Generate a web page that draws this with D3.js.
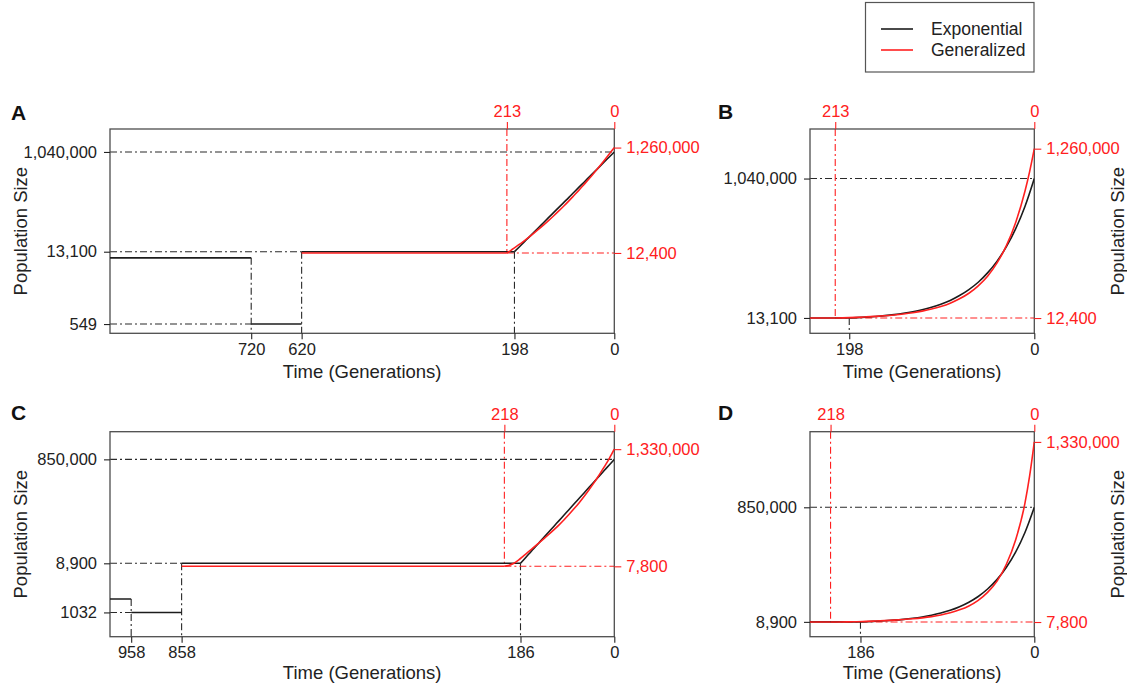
<!DOCTYPE html>
<html>
<head>
<meta charset="utf-8">
<script src="https://cdn.jsdelivr.net/npm/d3@7"></script>
<style>
  body { margin: 0; background: #fff; }
  svg { display: block; font-family: "Liberation Sans", Arial, Helvetica, sans-serif; }
</style>
</head>
<body>
<svg id="chart" width="1127" height="688"></svg>
<script>
// ---------- Scenario 1 (panels A and B) ----------
// Piecewise-constant history: [from generation, to generation, size]
const expHistory1 = [[1000, 720, 10000], [720, 620, 549], [620, 198, 13100]];
const genHistory1 = [[620, 213, 12400]];
// Growth phase: [generation, population size]
const expGrowth1 = [[198, 13100], [190, 15600], [180, 19500], [170, 24300], [160, 30300], [150, 37800],
  [140, 47200], [130, 58900], [120, 73400], [110, 91500], [100, 114000], [90, 142000], [80, 178000],
  [70, 222000], [60, 276000], [50, 345000], [40, 430000], [30, 536000], [20, 669000], [10, 834000], [0, 1040000]];
const genGrowth1 = [[213, 12400], [205, 13900], [198, 15500], [190, 17600], [180, 20700], [170, 24500],
  [160, 29200], [150, 35100], [140, 42500], [130, 51700], [120, 63400], [110, 78300], [100, 97400],
  [90, 122000], [80, 154000], [70, 195000], [60, 250000], [50, 321000], [40, 417000], [30, 544000],
  [20, 715000], [10, 946000], [5, 1091000], [0, 1260000]];

// ---------- Scenario 2 (panels C and D) ----------
const expHistory2 = [[1000, 958, 1860], [958, 858, 1032], [858, 186, 8900]];
const genHistory2 = [[858, 218, 7800]];
const expGrowth2 = [[186, 8900], [180, 10300], [170, 13200], [160, 16800], [150, 21500], [140, 27500],
  [130, 35100], [120, 44900], [110, 57300], [100, 73300], [90, 93600], [80, 120000], [70, 153000],
  [60, 195000], [50, 250000], [40, 319000], [30, 408000], [20, 521000], [10, 665000], [0, 850000]];
const genGrowth2 = [[218, 7800], [210, 8050], [200, 8800], [190, 10200], [180, 12300], [170, 14800],
  [160, 17900], [150, 21600], [140, 26000], [130, 31500], [120, 38500], [110, 47500], [100, 59500],
  [90, 75500], [80, 97000], [70, 126000], [60, 167000], [50, 225000], [40, 306000], [30, 430000],
  [20, 610000], [10, 880000], [5, 1080000], [0, 1330000]];

// ---------- Tick values and labels ----------
const leftTicksA = [1040000, 13100, 549];
const leftLabelsA = ["1,040,000", "13,100", "549"];
const bottomTicksA = [720, 620, 198, 0];
const leftTicksB = [1040000, 13100];
const leftLabelsB = ["1,040,000", "13,100"];
const bottomTicksB = [198, 0];
const topTicks1 = [213, 0];
const rightTicks1 = [1260000, 12400];
const rightLabels1 = ["1,260,000", "12,400"];

const leftTicksC = [850000, 8900, 1032];
const leftLabelsC = ["850,000", "8,900", "1032"];
const bottomTicksC = [958, 858, 186, 0];
const leftTicksD = [850000, 8900];
const leftLabelsD = ["850,000", "8,900"];
const bottomTicksD = [186, 0];
const topTicks2 = [218, 0];
const rightTicks2 = [1330000, 7800];
const rightLabels2 = ["1,330,000", "7,800"];

const legendLabels = ["Exponential", "Generalized"];

// ---------- Styling ----------
const RED = "#ff2020";
const INK = "#1c1c1c";
const FRAME = "#4d4d4d";
const DASHDOT = "7,3,2,3";
const TICK_FONT = 16.5;
const TITLE_FONT = 18.5;

const svg = d3.select("#chart");

const panels = [
  { letter: "A", lx: 11, ly: 120, left: 110, right: 614.3, top: 129, bottom: 333.3,
    xDomain: [1000, 0], log: true, yDomain: [366, 2845000],
    expHistory: expHistory1, genHistory: genHistory1, expGrowth: expGrowth1, genGrowth: genGrowth1,
    leftTicks: leftTicksA, leftLabels: leftLabelsA, bottomTicks: bottomTicksA,
    topTicks: topTicks1, rightTicks: rightTicks1, rightLabels: rightLabels1,
    refH: [[1040000, 0], [13100, 620], [549, 720]],
    refV: [[720, 10000], [620, 13100], [198, 13100]],
    redV: [213, 12400], titleSide: "left", xTitleDy: 38 },
  { letter: "B", lx: 718, ly: 119, left: 810, right: 1034.3, top: 129, bottom: 333.3,
    xDomain: [240, 0], log: false, yDomain: [-100000, 1405000],
    expHistory: expHistory1, genHistory: genHistory1, expGrowth: expGrowth1, genGrowth: genGrowth1,
    leftTicks: leftTicksB, leftLabels: leftLabelsB, bottomTicks: bottomTicksB,
    topTicks: topTicks1, rightTicks: rightTicks1, rightLabels: rightLabels1,
    refH: [[1040000, 0]],
    refV: [[198, 13100]],
    redV: [213, 12400], titleSide: "right", xTitleDy: 38 },
  { letter: "C", lx: 11, ly: 420, left: 110, right: 614.3, top: 431.7, bottom: 636.7,
    xDomain: [1000, 0], log: true, yDomain: [356, 2860000],
    expHistory: expHistory2, genHistory: genHistory2, expGrowth: expGrowth2, genGrowth: genGrowth2,
    leftTicks: leftTicksC, leftLabels: leftLabelsC, bottomTicks: bottomTicksC,
    topTicks: topTicks2, rightTicks: rightTicks2, rightLabels: rightLabels2,
    refH: [[850000, 0], [8900, 858], [1032, 958]],
    refV: [[958, 1860], [858, 8900], [186, 8900]],
    redV: [218, 7800], titleSide: "left", xTitleDy: 36 },
  { letter: "D", lx: 718, ly: 420, left: 810, right: 1034.3, top: 431.7, bottom: 636.7,
    xDomain: [240, 0], log: false, yDomain: [-100000, 1405000],
    expHistory: expHistory2, genHistory: genHistory2, expGrowth: expGrowth2, genGrowth: genGrowth2,
    leftTicks: leftTicksD, leftLabels: leftLabelsD, bottomTicks: bottomTicksD,
    topTicks: topTicks2, rightTicks: rightTicks2, rightLabels: rightLabels2,
    refH: [[850000, 0]],
    refV: [[186, 8900]],
    redV: [218, 7800], titleSide: "right", xTitleDy: 36 }
];

function drawPanel(p) {
  const g = svg.append("g").attr("class", "panel-" + p.letter);
  const x = d3.scaleLinear().domain(p.xDomain).range([p.left, p.right]);
  const y = (p.log ? d3.scaleLog() : d3.scaleLinear()).domain(p.yDomain).range([p.bottom, p.top]);

  const clipId = "clip-" + p.letter;
  svg.append("defs").append("clipPath").attr("id", clipId)
    .append("rect").attr("x", p.left).attr("y", p.top)
    .attr("width", p.right - p.left).attr("height", p.bottom - p.top);

  // Dash-dot guides to the labelled sizes and times
  const guides = g.append("g").attr("fill", "none").attr("stroke-width", 1.1).attr("stroke-dasharray", DASHDOT);
  p.refH.forEach(([size, gen]) => {
    guides.append("line").attr("stroke", "#2a2a2a")
      .attr("x1", p.left).attr("x2", x(gen)).attr("y1", y(size)).attr("y2", y(size));
  });
  p.refV.forEach(([gen, size]) => {
    guides.append("line").attr("stroke", "#2a2a2a")
      .attr("x1", x(gen)).attr("x2", x(gen)).attr("y1", y(size)).attr("y2", p.bottom);
  });
  const [rg, rs] = p.redV;
  guides.append("line").attr("stroke", RED)
    .attr("x1", x(rg)).attr("x2", x(rg)).attr("y1", p.top).attr("y2", y(rs));
  guides.append("line").attr("stroke", RED)
    .attr("x1", x(rg)).attr("x2", p.right).attr("y1", y(rs)).attr("y2", y(rs));

  // Frame
  g.append("rect").attr("x", p.left).attr("y", p.top)
    .attr("width", p.right - p.left).attr("height", p.bottom - p.top)
    .attr("fill", "none").attr("stroke", FRAME).attr("stroke-width", 1.3);

  // Population trajectories
  const curves = g.append("g").attr("clip-path", `url(#${clipId})`).attr("fill", "none");
  const seg = d3.line().x(d => x(d[0])).y(d => y(d[1]));
  const smooth = d3.line().x(d => x(d[0])).y(d => y(d[1])).curve(d3.curveMonotoneX);

  function drawModel(history, growth, color) {
    history.forEach(([from, to, size]) => {
      curves.append("path").attr("d", seg([[from, size], [to, size]]))
        .attr("stroke", color).attr("stroke-width", 1.6);
    });
    curves.append("path").attr("d", smooth(growth))
      .attr("stroke", color).attr("stroke-width", 1.6);
  }
  drawModel(p.expHistory, p.expGrowth, INK);
  drawModel(p.genHistory, p.genGrowth, RED);

  // Axes
  function styleAxis(sel, color) {
    sel.select(".domain").remove();
    sel.selectAll(".tick line").attr("stroke", color).attr("stroke-width", 1.1);
    sel.selectAll(".tick text").attr("fill", color).attr("font-size", TICK_FONT)
      .attr("font-family", "Liberation Sans, Arial, sans-serif");
  }
  g.append("g").attr("transform", `translate(${p.left},0)`)
    .call(d3.axisLeft(y).tickValues(p.leftTicks).tickFormat((d, i) => p.leftLabels[i])
      .tickSize(6).tickPadding(7))
    .call(s => styleAxis(s, "#222"));
  g.append("g").attr("transform", `translate(0,${p.bottom})`)
    .call(d3.axisBottom(x).tickValues(p.bottomTicks).tickFormat(d => String(d))
      .tickSize(6).tickPadding(4))
    .call(s => styleAxis(s, "#222"));
  g.append("g").attr("transform", `translate(0,${p.top})`)
    .call(d3.axisTop(x).tickValues(p.topTicks).tickFormat(d => String(d))
      .tickSize(7).tickPadding(5))
    .call(s => styleAxis(s, RED));
  g.append("g").attr("transform", `translate(${p.right},0)`)
    .call(d3.axisRight(y).tickValues(p.rightTicks).tickFormat((d, i) => p.rightLabels[i])
      .tickSize(7).tickPadding(5))
    .call(s => styleAxis(s, RED));

  // Titles
  g.append("text").attr("x", (p.left + p.right) / 2).attr("y", p.bottom + p.xTitleDy)
    .attr("text-anchor", "middle").attr("dy", "0.35em")
    .attr("font-size", TITLE_FONT).attr("fill", "#222").text("Time (Generations)");
  const tx = p.titleSide === "left" ? 20.5 : 1118;
  const ty = (p.top + p.bottom) / 2;
  g.append("text").attr("transform", `translate(${tx},${ty}) rotate(-90)`)
    .attr("text-anchor", "middle").attr("dy", "0.35em")
    .attr("font-size", TITLE_FONT).attr("fill", "#222").text("Population Size");

  // Panel letter
  g.append("text").attr("x", p.lx).attr("y", p.ly)
    .attr("font-size", 21).attr("font-weight", "bold").attr("fill", "#111").text(p.letter);
}

panels.forEach(drawPanel);

// Legend
const legend = svg.append("g");
legend.append("rect").attr("x", 865.5).attr("y", 2.5).attr("width", 168.5).attr("height", 69.5)
  .attr("fill", "#fff").attr("stroke", "#555").attr("stroke-width", 1.2);
const legendColors = [INK, RED];
legendLabels.forEach((lab, i) => {
  const ly = 29 + i * 21;
  legend.append("line").attr("x1", 881).attr("x2", 913).attr("y1", ly).attr("y2", ly)
    .attr("stroke", legendColors[i]).attr("stroke-width", 1.6);
  legend.append("text").attr("x", 931).attr("y", ly).attr("dy", "0.35em")
    .attr("font-size", 17.5).attr("fill", "#222").text(lab);
});
</script>
</body>
</html>
